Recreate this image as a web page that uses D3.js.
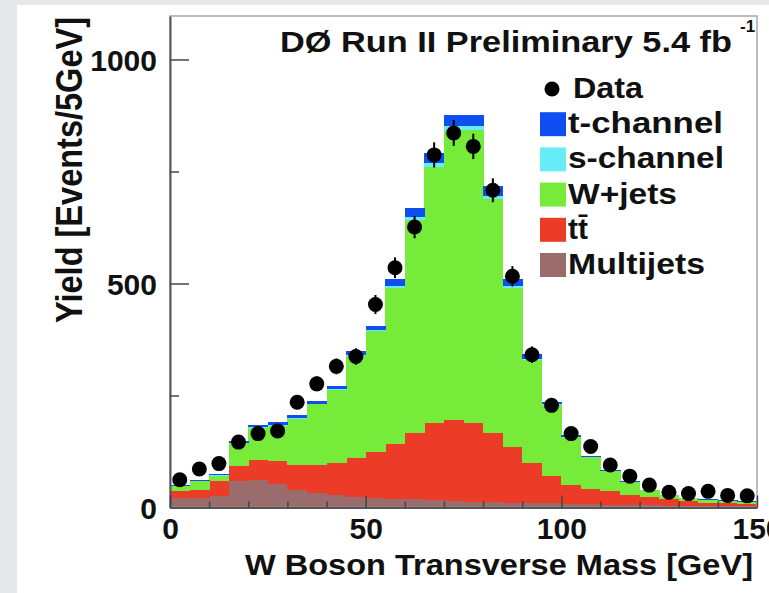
<!DOCTYPE html>
<html><head><meta charset="utf-8">
<script src="https://cdn.jsdelivr.net/npm/d3@7/dist/d3.min.js"></script>
<style>
body{margin:0;background:#e6e7e9;}
svg{display:block}
text{font-family:"Liberation Sans",Arial,Helvetica,sans-serif;font-weight:bold;fill:#111;}
</style>
</head><body>
<svg id="c" width="769" height="593"></svg>
<script>
// ---- data (bins of 5 GeV in W transverse mass) ----
const binLow = [0,5,10,15,20,25,30,35,40,45,50,55,60,65,70,75,80,85,90,95,100,105,110,115,120,125,130,135,140,145];
const binWidth = 5;
const dataCounts = [62,86,98,146,165,171,235,276,315,337,453,535,626,787,836,806,708,516,341,228,165,136,95,70,50,34,31,36,27,26];
const multijets = [22,22,25,60,61,52,40,33,28,24,22,20,18,16,14,13,12,11,10,9,8,7,6,5,5,4,4,3,3,3];
const ttbar     = [15,18,34,33,46,51,55,61,71,86,102,122,149,173,181,176,155,124,90,61,42,34,30,24,19,14,10,8,6,5];
const wJets     = [11,19,12,50,70,80,103,136,164,228,270,348,475,571,647,653,521,354,229,158,107,71,45,27,15,10,7,6,6,5];
const sChannel  = [1,1,1,1,2,2,2,2,2,3,3,5,6,8,9,9,7,5,3,2,1,1,1,1,0,0,0,0,0,0];
const tChannel  = [1,2,2,4,5,5,6,6,7,8,9,15,20,24,26,26,22,16,10,6,4,3,2,2,1,1,1,1,1,1];

const xTicksMajor = [0,50,100,150];
const xTicksMinor = [10,20,30,40,60,70,80,90,110,120,130,140];
const yTicksMajor = [0,500,1000];
const yTicksMinor = [250,750];

const seriesKeys   = ["multijets","ttbar","wjets","schan","tchan"];
const seriesColors = {multijets:"#9a6c6c", ttbar:"#ec3b26", wjets:"#76eb3a", schan:"#66edf8", tchan:"#0f4ff2"};
const legendEntries = [
  {label:"Data", key:"data"},
  {label:"t-channel", key:"tchan"},
  {label:"s-channel", key:"schan"},
  {label:"W+jets", key:"wjets"},
  {label:"tt\u0304", key:"ttbar"},
  {label:"Multijets", key:"multijets"}
];
const titleText = "DØ Run II Preliminary 5.4 fb";
const titleSup = "-1";
const xTitle = "W Boson Transverse Mass [GeV]";
const yTitle = "Yield [Events/5GeV]";

// ---- layout ----
const svg = d3.select("#c");
svg.append("rect").attr("x",0).attr("y",0).attr("width",769).attr("height",593).attr("fill","#e6e7e9");
svg.append("rect").attr("x",17).attr("y",5).attr("width",752).attr("height",588).attr("fill","#ffffff");

const x = d3.scaleLinear().domain([0,150]).range([170,757]);
const y = d3.scaleLinear().domain([0,1097]).range([507.5,16]);

const table = binLow.map((b,i)=>({low:b, multijets:multijets[i], ttbar:ttbar[i], wjets:wJets[i], schan:sChannel[i], tchan:tChannel[i]}));
const stacked = d3.stack().keys(seriesKeys)(table);

const gHist = svg.append("g").attr("shape-rendering","crispEdges");
stacked.forEach(layer=>{
  gHist.append("g").attr("fill",seriesColors[layer.key])
    .selectAll("rect").data(layer).join("rect")
    .attr("x",d=>x(d.data.low))
    .attr("width",d=>x(d.data.low+binWidth)-x(d.data.low)+0.5)
    .attr("y",d=>y(d[1]))
    .attr("height",d=>Math.max(0,y(d[0])-y(d[1])));
});

// data points with error bars
const gData = svg.append("g");
gData.selectAll("line").data(dataCounts).join("line")
  .attr("x1",(d,i)=>x(binLow[i]+binWidth/2)).attr("x2",(d,i)=>x(binLow[i]+binWidth/2))
  .attr("y1",d=>y(d+Math.sqrt(d))).attr("y2",d=>y(d-Math.sqrt(d)))
  .attr("stroke","#000").attr("stroke-width",2);
gData.selectAll("circle").data(dataCounts).join("circle")
  .attr("cx",(d,i)=>x(binLow[i]+binWidth/2)).attr("cy",d=>y(d)).attr("r",7.5).attr("fill","#000");

// frame
svg.append("rect").attr("x",170).attr("y",16).attr("width",587).attr("height",491.5)
  .attr("fill","none").attr("stroke","#a8a8a8").attr("stroke-width",1.5);

// axes
function styleAxis(g){
  g.selectAll("path.domain").attr("stroke","#555").attr("stroke-width",2);
  g.selectAll(".tick line").attr("stroke","#444").attr("stroke-width",1.5);
  g.selectAll("text").attr("font-size",30).attr("fill","#111");
}
const yAxis = svg.append("g").attr("transform","translate(170,0)")
  .call(d3.axisLeft(y).tickValues(yTicksMajor).tickSize(-19).tickSizeOuter(0).tickPadding(13).tickFormat(d3.format("d")));
styleAxis(yAxis);
yAxis.selectAll("text").attr("dy","0.36em");
const yMinor = svg.append("g").attr("transform","translate(170,0)")
  .call(d3.axisLeft(y).tickValues(yTicksMinor).tickSize(-9).tickSizeOuter(0).tickFormat(""));
styleAxis(yMinor); yMinor.select("path.domain").remove();

const xAxis = svg.append("g").attr("transform","translate(0,507.5)")
  .call(d3.axisBottom(x).tickValues(xTicksMajor).tickSize(-12).tickSizeOuter(0).tickPadding(10).tickFormat(d3.format("d")));
styleAxis(xAxis);
const xMinor = svg.append("g").attr("transform","translate(0,507.5)")
  .call(d3.axisBottom(x).tickValues(xTicksMinor).tickSize(-6).tickSizeOuter(0).tickFormat(""));
styleAxis(xMinor); xMinor.select("path.domain").remove();

// titles
svg.append("text").attr("x",245).attr("y",575).attr("font-size",30)
  .attr("textLength",508).attr("lengthAdjust","spacingAndGlyphs").text(xTitle);
svg.append("text").attr("transform","translate(82,323) scale(1.15,1) rotate(-90)")
  .attr("font-size",32).attr("textLength",306).attr("lengthAdjust","spacingAndGlyphs").text(yTitle);

svg.append("text").attr("x",280).attr("y",52).attr("font-size",30)
  .attr("textLength",452).attr("lengthAdjust","spacingAndGlyphs").text(titleText);
svg.append("text").attr("x",740).attr("y",32).attr("font-size",17).text(titleSup);

// legend
const legendTop = 89, legendStep = 35.2;
const legendWidths = {data:70, tchan:155, schan:156, wjets:109, ttbar:20, multijets:137};
const gLeg = svg.append("g");
legendEntries.forEach((e,i)=>{
  const cy = legendTop + i*legendStep;
  if(e.key==="data"){
    gLeg.append("circle").attr("cx",552).attr("cy",cy).attr("r",7.5).attr("fill","#000");
    gLeg.append("text").attr("x",573).attr("y",cy+9).attr("font-size",30)
      .attr("textLength",legendWidths[e.key]).attr("lengthAdjust","spacingAndGlyphs").text(e.label);
  } else {
    gLeg.append("rect").attr("x",540).attr("y",cy-12).attr("width",26).attr("height",24).attr("fill",seriesColors[e.key]);
    gLeg.append("text").attr("x",568).attr("y",cy+9).attr("font-size",30)
      .attr("textLength",legendWidths[e.key]).attr("lengthAdjust","spacingAndGlyphs").text(e.label);
  }
});
</script>
</body></html>
